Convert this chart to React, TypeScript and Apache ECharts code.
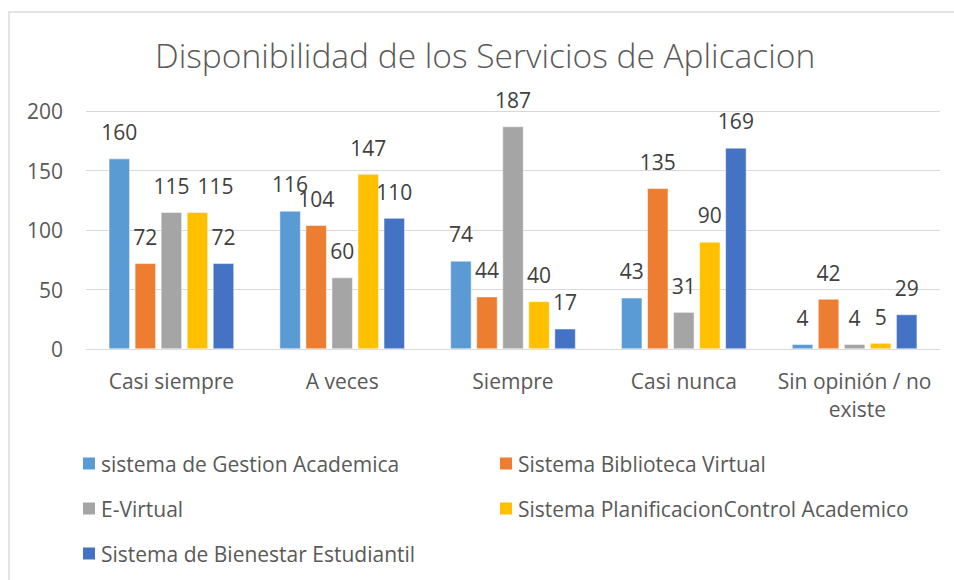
import React, { useEffect, useRef } from "react";
import * as echarts from "echarts";

const categories = ["Casi siempre", "A veces", "Siempre", "Casi nunca", "Sin opinión / no existe"];
const seriesNames = [
  "sistema de Gestion Academica",
  "Sistema Biblioteca Virtual",
  "E-Virtual",
  "Sistema PlanificacionControl Academico",
  "Sistema de Bienestar Estudiantil",
];
const gestionAcademica = [160, 116, 74, 43, 4];
const bibliotecaVirtual = [72, 104, 44, 135, 42];
const eVirtual = [115, 60, 187, 31, 4];
const planificacion = [115, 147, 40, 90, 5];
const bienestar = [72, 110, 17, 169, 29];
const seriesValues = [gestionAcademica, bibliotecaVirtual, eVirtual, planificacion, bienestar];
const colors = ["#5B9BD5", "#ED7D31", "#A5A5A5", "#FFC000", "#4472C4"];
const yTicks = { min: 0, max: 200, interval: 50 };

const FONT = "Open Sans";

export default function App() {
  const ref = useRef<HTMLDivElement>(null);
  useEffect(() => {
    document.body.style.margin = "0";
    if (!ref.current) return;
    const chart = echarts.init(ref.current, undefined, { renderer: "svg" });
    const legendPos = [
      { left: 76, top: 448 },
      { left: 493, top: 448 },
      { left: 76, top: 493 },
      { left: 493, top: 493 },
      { left: 76, top: 538 },
    ];
    chart.setOption({
      animation: false,
      color: colors,
      title: {
        text: "Disponibilidad de los Servicios de Aplicacion",
        left: 150,
        top: 33,
        textStyle: { fontFamily: FONT, fontSize: 33.5, fontWeight: 300, color: "#595959" },
      },
      graphic: [
        {
          type: "rect",
          shape: { x: 9, y: 12, width: 1000, height: 700 },
          style: { fill: "none", stroke: "#dcdcdc", lineWidth: 1.5 },
          silent: true,
        },
      ],
      legend: seriesNames.map((n, i) => ({
        data: [n],
        left: legendPos[i].left,
        top: legendPos[i].top,
        icon: "rect",
        itemWidth: 14,
        itemHeight: 14,
        textStyle: { fontFamily: FONT, fontSize: 21, color: "#595959" },
      })),
      grid: { left: 86, right: 14, top: 111, height: 238, containLabel: false },
      xAxis: {
        type: "category",
        data: categories,
        axisLine: { lineStyle: { color: "#d9d9d9", width: 1 } },
        axisTick: { show: false },
        axisLabel: {
          interval: 0,
          margin: 18,
          fontFamily: FONT,
          fontSize: 21,
          color: "#595959",
          width: 165,
          overflow: "break",
          lineHeight: 28,
        },
      },
      yAxis: {
        type: "value",
        min: yTicks.min,
        max: yTicks.max,
        interval: yTicks.interval,
        axisLine: { show: false },
        axisTick: { show: false },
        splitLine: { lineStyle: { color: "#d9d9d9", width: 1 } },
        axisLabel: { margin: 23, fontFamily: FONT, fontSize: 21, color: "#595959" },
      },
      series: seriesNames.map((n, i) => ({
        name: n,
        type: "bar",
        data: seriesValues[i].map((v, j) =>
          i === 3 && j === 0 ? { value: v, label: { offset: [18, 0] } } : v
        ),
        barWidth: 21,
        barGap: "24%",
        itemStyle: { color: colors[i], borderColor: "#ffffff", borderWidth: 0.5 },
        label: {
          show: true,
          position: "top",
          distance: 16,
          fontFamily: FONT,
          fontSize: 21,
          color: "#404040",
        },
      })),
    });
    return () => chart.dispose();
  }, []);
  return <div ref={ref} style={{ width: 954, height: 580 }} />;
}
